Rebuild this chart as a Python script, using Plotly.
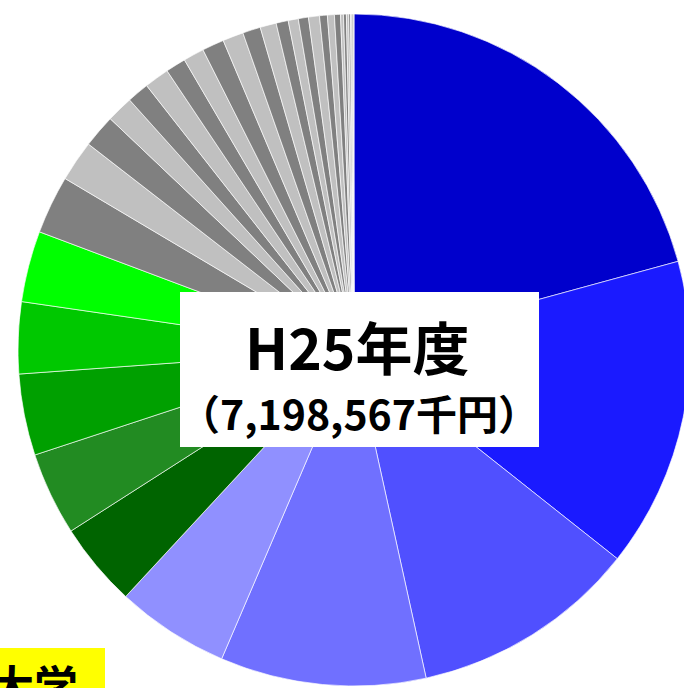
import plotly.graph_objects as go

# Budget breakdown (千円); total 7,198,567
labels = [
    "区分1", "区分2", "区分3", "区分4", "区分5",
    "区分6", "区分7", "区分8", "区分9", "区分10",
] + [f"その他{i}" for i in range(1, 27)]
values = [
    1493700, 1073800, 783800, 711900, 391900,
    291900, 287900, 281900, 247900, 245900,
    202000, 142000, 114000, 92000, 76000, 86000, 70000, 72000, 76000, 72000,
    62000, 56000, 42000, 35000, 35000, 38000, 27000, 24000, 21000, 10000,
    10000, 8000, 6000, 5000, 4000, 3000,
]
main_colors = ["#0000cc", "#1a1aff", "#5050ff", "#7070ff", "#9090ff",
               "#006400", "#228b22", "#00a000", "#00c800", "#00ff00"]
gray_colors = ["#808080", "#c0c0c0"]
title_text = "H25年度"
total_text = "（7,198,567千円）"
corner_text = "大学"

colors = main_colors + [gray_colors[i % 2] for i in range(len(values) - len(main_colors))]

W, H = 700, 700


def px(x):
    return x / W


def py(y):
    return 1 - y / H


fig = go.Figure(go.Pie(
    labels=labels,
    values=values,
    sort=False,
    direction="clockwise",
    rotation=0,
    textinfo="none",
    hoverinfo="label+value+percent",
    marker=dict(colors=colors, line=dict(color="rgba(255,255,255,0.65)", width=1)),
    domain=dict(x=[px(18), px(690)], y=[py(687), py(13)]),
    showlegend=False,
))

fig.add_shape(type="rect", xref="paper", yref="paper",
              x0=px(180), x1=px(539), y0=py(447), y1=py(292),
              fillcolor="white", line=dict(width=0), layer="above")
fig.add_shape(type="rect", xref="paper", yref="paper",
              x0=px(-5), x1=px(105), y0=py(720), y1=py(648),
              fillcolor="#ffff00", line=dict(width=0), layer="above")

font_family = "Noto Sans CJK JP"
fig.add_annotation(xref="paper", yref="paper", x=px(357), y=py(345),
                   text=f"<b>{title_text}</b>", showarrow=False,
                   xanchor="center", yanchor="middle",
                   font=dict(family=font_family, size=57, color="black"))
fig.add_annotation(xref="paper", yref="paper", x=px(359), y=py(412),
                   text=f"<b>{total_text}</b>", showarrow=False,
                   xanchor="center", yanchor="middle",
                   font=dict(family=font_family, size=41, color="black"))
fig.add_annotation(xref="paper", yref="paper", x=px(-12), y=py(650),
                   text=f"<b>{corner_text}</b>", showarrow=False,
                   xanchor="left", yanchor="top",
                   font=dict(family=font_family, size=44, color="black"))

fig.update_layout(
    width=W, height=H,
    margin=dict(l=0, r=0, t=0, b=0),
    paper_bgcolor="white",
    plot_bgcolor="white",
)

fig.write_html(
    "out.html",
    config={"displayModeBar": False},
    post_script="document.body.style.margin='0';document.documentElement.style.overflow='hidden';document.body.style.overflow='hidden';",
)
